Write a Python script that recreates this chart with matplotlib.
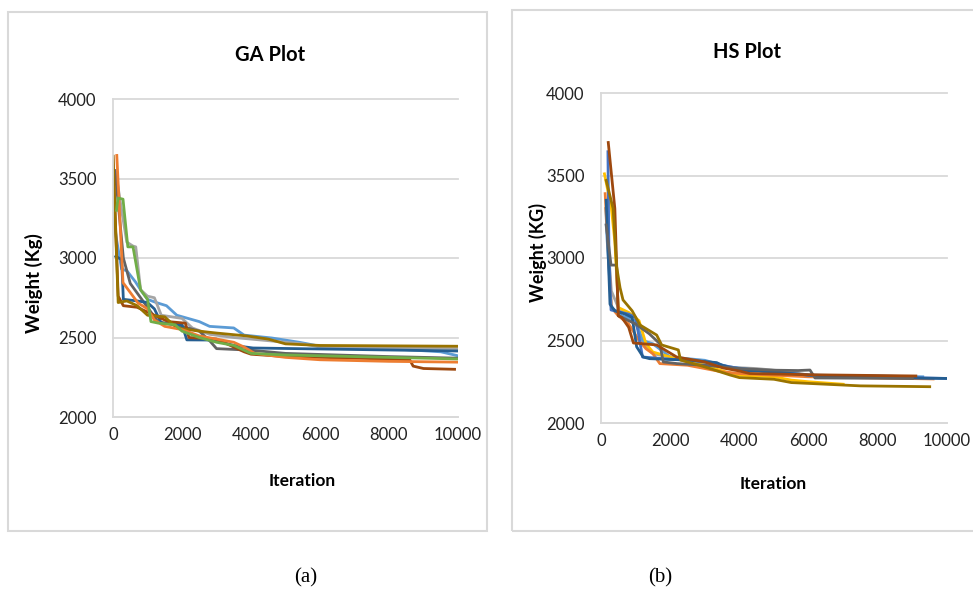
import matplotlib
matplotlib.use("Agg")
import matplotlib.pyplot as plt
from matplotlib.patches import Rectangle

# --- DADOS ---
# GA: (iteracao, peso) por execucao
ga_light_blue_x = [0, 100, 250, 400, 650, 800, 1000, 1250, 1550, 1850, 2500, 2800, 3500, 3800, 4600, 5400, 6000, 8000, 9500, 10000]
ga_light_blue_y = [3280, 3120, 2930, 2920, 2850, 2800, 2740, 2720, 2700, 2640, 2600, 2570, 2560, 2515, 2497, 2470, 2445, 2430, 2410, 2385]

ga_orange_x = [110, 290, 725, 1000, 1200, 1500, 2000, 2500, 3000, 3500, 3800, 4100, 5000, 6000, 8000, 10000]
ga_orange_y = [3645, 2845, 2717, 2680, 2610, 2570, 2550, 2510, 2490, 2470, 2440, 2400, 2375, 2360, 2350, 2345]

ga_gray_x = [80, 250, 400, 580, 660, 800, 1000, 1200, 1400, 2000, 2300, 2800, 3500, 4500, 5500, 6000, 10000]
ga_gray_y = [3540, 3300, 3100, 3075, 3070, 2800, 2760, 2750, 2640, 2620, 2560, 2520, 2500, 2480, 2460, 2440, 2430]

ga_dark_blue_x = [80, 250, 300, 700, 1000, 1200, 1400, 2000, 2140, 2900, 3500, 4060, 10000]
ga_dark_blue_y = [3010, 2990, 2740, 2730, 2720, 2680, 2590, 2580, 2485, 2484, 2450, 2434, 2415]

ga_green_x = [100, 145, 290, 430, 580, 800, 1000, 1100, 1300, 1800, 2000, 2500, 3000, 3500, 4000, 5000, 7000, 10000]
ga_green_y = [3300, 3377, 3370, 3070, 3070, 2800, 2740, 2600, 2591, 2580, 2540, 2500, 2470, 2450, 2400, 2390, 2380, 2365]

ga_brown_x = [0, 150, 300, 700, 1000, 1200, 1600, 2100, 2200, 3000, 3500, 3800, 4000, 5000, 7000, 8600, 8700, 9000, 9900]
ga_brown_y = [3640, 2760, 2700, 2690, 2660, 2640, 2600, 2590, 2500, 2490, 2440, 2410, 2395, 2380, 2370, 2360, 2320, 2305, 2300]

ga_dark_gold_x = [0, 150, 400, 700, 1000, 1500, 1850, 2500, 3000, 3870, 4500, 5000, 6000, 10000]
ga_dark_gold_y = [3640, 2720, 2730, 2700, 2640, 2630, 2560, 2540, 2528, 2510, 2490, 2460, 2450, 2445]

ga_dark_gray_x = [60, 300, 500, 800, 1000, 1300, 2000, 2500, 2800, 3000, 4000, 5000, 8000, 10000]
ga_dark_gray_y = [3550, 3000, 2840, 2750, 2690, 2600, 2570, 2540, 2480, 2430, 2420, 2400, 2380, 2370]

# HS
hs_dark_gold_x = [150, 350, 450, 550, 636, 900, 1127, 1609, 1753, 2234, 2300, 3000, 3728, 4000, 5000, 5500, 7500, 9500]
hs_dark_gold_y = [3470, 3300, 2950, 2820, 2746, 2680, 2594, 2533, 2473, 2443, 2382, 2340, 2291, 2275, 2265, 2245, 2225, 2220]

hs_brown_x = [210, 400, 500, 600, 800, 937, 1610, 2187, 3000, 3538, 4000, 4300, 6200, 9100]
hs_brown_y = [3700, 3300, 2650, 2640, 2580, 2485, 2473, 2400, 2370, 2333, 2315, 2300, 2292, 2285]

hs_blue_x = [200, 230, 290, 800, 1000, 1200, 1800, 2500, 3000, 3500, 4000, 5000, 6000, 8000, 9000, 10000]
hs_blue_y = [3644, 3030, 2685, 2660, 2640, 2400, 2390, 2380, 2370, 2350, 2330, 2310, 2290, 2280, 2275, 2270]

hs_dark_gray_x = [150, 290, 450, 500, 1000, 1400, 1700, 1800, 2200, 3000, 4000, 5000, 5700, 6040, 6185, 9000]
hs_dark_gray_y = [3200, 2957, 2957, 2650, 2600, 2540, 2480, 2370, 2360, 2350, 2330, 2320, 2318, 2321, 2273, 2270]

hs_orange_x = [120, 300, 500, 800, 1100, 1300, 1500, 1700, 2500, 3000, 3500, 4000, 5000, 6000, 9600]
hs_orange_y = [3390, 2700, 2650, 2600, 2500, 2450, 2420, 2360, 2350, 2330, 2310, 2300, 2290, 2280, 2267]

hs_yellow_x = [100, 300, 400, 500, 800, 1100, 1300, 1500, 2000, 2500, 3000, 3600, 4000, 5000, 5500, 6000, 7000]
hs_yellow_y = [3510, 3300, 3100, 2700, 2670, 2620, 2480, 2430, 2400, 2370, 2350, 2310, 2290, 2280, 2260, 2250, 2235]

hs_light_blue_x = [150, 300, 600, 1000, 1200, 1500, 2000, 3000, 3700, 4500, 5000, 6000, 8000, 9300]
hs_light_blue_y = [3200, 2700, 2650, 2620, 2500, 2480, 2400, 2380, 2340, 2320, 2300, 2290, 2285, 2280]

hs_light_gray_x = [130, 300, 500, 1000, 1300, 1500, 2000, 2600, 3500, 4500, 5500, 6000, 9000]
hs_light_gray_y = [3300, 2800, 2700, 2600, 2460, 2420, 2400, 2370, 2340, 2330, 2310, 2290, 2280]

hs_dark_blue_x = [150, 260, 400, 700, 900, 1030, 1220, 1400, 2000, 2500, 3343, 3500, 4000, 5000, 6000, 8000, 10000]
hs_dark_blue_y = [3350, 2720, 2680, 2660, 2640, 2462, 2400, 2390, 2385, 2382, 2366, 2350, 2320, 2310, 2290, 2275, 2270]

y_ticks = [2000, 2500, 3000, 3500, 4000]
x_ticks = [0, 2000, 4000, 6000, 8000, 10000]

# cores padrao do Excel
C_BLUE = "#5B9BD5"
C_ORANGE = "#ED7D31"
C_GRAY = "#A5A5A5"
C_GOLD = "#FFC000"
C_BLUE2 = "#4472C4"
C_GREEN = "#70AD47"
C_DBLUE = "#255E91"
C_BROWN = "#9E480E"
C_DGRAY = "#636363"
C_DGOLD = "#997300"
FRAME = "#D9D9D9"

plt.rcParams['font.family'] = ['Lato', 'DejaVu Sans']

W, H = 973, 592
fig = plt.figure(figsize=(W / 100, H / 100), dpi=100)


def px_box(x0, y0, x1, y1):
    # caixa em pixels (origem no topo) -> fracao da figura
    return [x0 / W, 1 - y1 / H, (x1 - x0) / W, (y1 - y0) / H]


def style_axes(ax):
    ax.set_xlim(0, 10000)
    ax.set_ylim(2000, 4000)
    ax.set_xticks(x_ticks)
    ax.set_yticks(y_ticks)
    ax.tick_params(length=0, labelsize=12, colors="#222222")
    ax.tick_params(axis='y', pad=12)
    ax.tick_params(axis='x', pad=7)
    for s in ['top', 'right']:
        ax.spines[s].set_visible(False)
    for s in ['left', 'bottom']:
        ax.spines[s].set_color(FRAME)
        ax.spines[s].set_linewidth(1.3)
    ax.grid(axis='y', color=FRAME, linewidth=1.3)
    ax.set_axisbelow(True)
    for gl in ax.get_ygridlines():
        gl.set_clip_on(False)


# molduras
fig.patches.append(Rectangle((8 / W, 1 - 531 / H), 479 / W, 519 / H, transform=fig.transFigure,
                             fill=False, edgecolor=FRAME, linewidth=1.5))
fig.patches.append(Rectangle((512 / W, 1 - 531 / H), 470 / W, 521 / H, transform=fig.transFigure,
                             fill=False, edgecolor=FRAME, linewidth=1.5))

# --- GA ---
ax1 = fig.add_axes(px_box(113, 99, 458, 417))
style_axes(ax1)
lw = 2.0
ga_series = [
    (ga_light_blue_x, ga_light_blue_y, C_BLUE),
    (ga_gray_x, ga_gray_y, C_GRAY),
    (ga_dark_gray_x, ga_dark_gray_y, C_DGRAY),
    (ga_dark_blue_x, ga_dark_blue_y, C_DBLUE),
    (ga_brown_x, ga_brown_y, C_BROWN),
    (ga_dark_gold_x, ga_dark_gold_y, C_DGOLD),
    (ga_orange_x, ga_orange_y, C_ORANGE),
    (ga_green_x, ga_green_y, C_GREEN),
]
for xs, ys, c in ga_series:
    ax1.plot(xs, ys, color=c, lw=lw, solid_joinstyle='round')

# --- HS ---
ax2 = fig.add_axes(px_box(601, 93, 947, 423))
style_axes(ax2)
hs_series = [
    (hs_light_gray_x, hs_light_gray_y, C_GRAY),
    (hs_light_blue_x, hs_light_blue_y, C_BLUE),
    (hs_yellow_x, hs_yellow_y, C_GOLD),
    (hs_orange_x, hs_orange_y, C_ORANGE),
    (hs_blue_x, hs_blue_y, C_BLUE2),
    (hs_dark_blue_x, hs_dark_blue_y, C_DBLUE),
    (hs_dark_gray_x, hs_dark_gray_y, C_DGRAY),
    (hs_brown_x, hs_brown_y, C_BROWN),
    (hs_dark_gold_x, hs_dark_gold_y, C_DGOLD),
]
for xs, ys, c in hs_series:
    ax2.plot(xs, ys, color=c, lw=lw, solid_joinstyle='round')

# textos
def ftext(x, y, s, **kw):
    fig.text(x / W, 1 - y / H, s, ha='center', va='center', **kw)

ftext(270, 55, "GA Plot", fontsize=14.5, fontweight='bold')
ftext(747, 52, "HS Plot", fontsize=14.5, fontweight='bold')
ftext(34, 283, "Weight (Kg)", fontsize=13.5, fontweight='bold', rotation=90)
ftext(538, 252, "Weight (KG)", fontsize=13, fontweight='bold', rotation=90)
ftext(302, 481, "Iteration", fontsize=12.5, fontweight='bold')
ftext(773, 484, "Iteration", fontsize=12.5, fontweight='bold')
ftext(306, 578, "(a)", fontsize=15, family='Liberation Serif')
ftext(660, 578, "(b)", fontsize=15, family='Liberation Serif')

fig.savefig("out.png", dpi=100)
